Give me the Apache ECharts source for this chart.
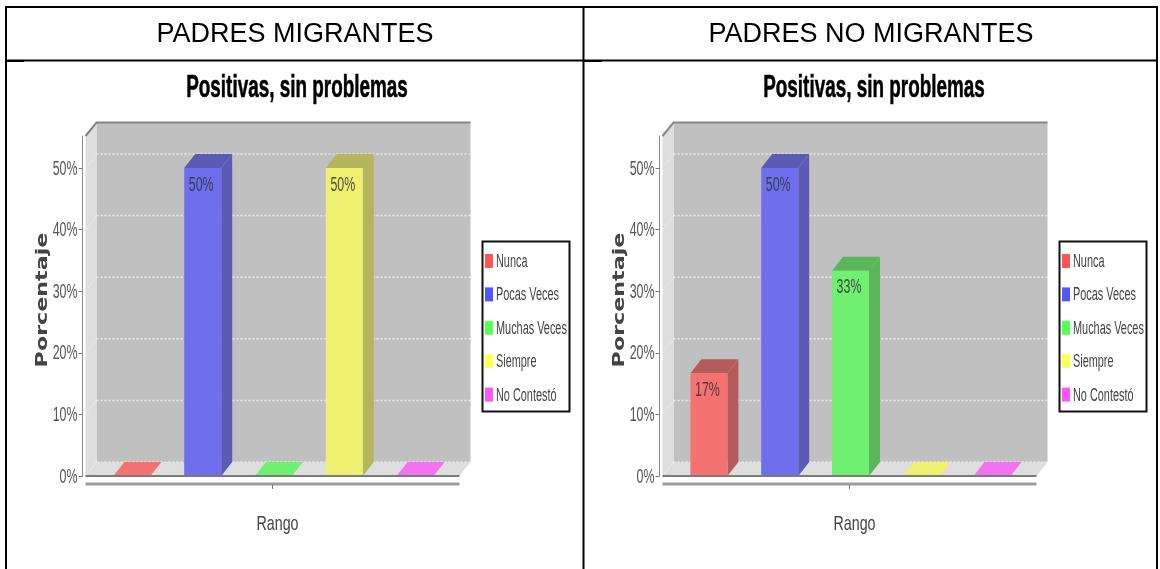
<!DOCTYPE html>
<html><head><meta charset="utf-8">
<style>html,body{margin:0;padding:0;background:#fff}#c{width:1160px;height:569px}</style>
<script src="https://cdn.jsdelivr.net/npm/echarts@6/dist/echarts.min.js"></script>
</head><body><div id="c"></div>
<script>
const categories = ['Nunca','Pocas Veces','Muchas Veces','Siempre','No Contestó'];
const padresMigrantes = [0,50,0,50,0];
const padresNoMigrantes = [16.67,50,33.33,0,0];
const yTicks = [0,10,20,30,40,50];
const headers = ['PADRES MIGRANTES','PADRES NO MIGRANTES'];
const chartTitle = 'Positivas, sin problemas';
const xName = 'Rango';
const yName = 'Porcentaje';

const legendColors = ['#ff5555','#5555ff','#55ff55','#ffff55','#ff55ff'];
const frontColors  = ['#f57272','#6f6fee','#70f070','#f0f070','#f272f2'];
const sideColors   = ['#b55b5b','#5b5bb5','#5bb55b','#b5b55b','#b55bb5'];
const DX = 11, DY = 14, FONT = '"Liberation Sans"';

function wallRender(params, api){
  const c = params.coordSys;
  const L = c.x - DX, R = c.x + c.width + 9, T = c.y, B = c.y + c.height;
  const kids = [
    {type:'rect',shape:{x:c.x,y:T-DY,width:R+DX-c.x,height:c.height},style:{fill:'#c0c0c0'}},
    {type:'polygon',shape:{points:[[L,T],[c.x,T-DY],[c.x,B-DY],[L,B]]},style:{fill:'#dedede'}},
    {type:'polygon',shape:{points:[[L,B],[c.x,B-DY],[R+DX,B-DY],[R,B]]},style:{fill:'#dedede'}},
    {type:'polyline',shape:{points:[[L,T],[c.x,T-DY+0.5],[R+DX,T-DY+0.5]]},style:{fill:null,stroke:'#858585',lineWidth:2}}
  ];
  yTicks.forEach(v=>{
    const y = api.coord([0,v])[1];
    kids.push({type:'line',shape:{x1:c.x,y1:y-DY,x2:R+DX,y2:y-DY},style:{stroke:'#e8e8e8',lineWidth:1.5,lineDash:[2,2]}});
    kids.push({type:'line',shape:{x1:L,y1:y,x2:c.x,y2:y-DY},style:{stroke:'#eeeeee',lineWidth:1,lineDash:[2,2]}});
    kids.push({type:'text',x:L-8,y:y+1,scaleX:0.62,
      style:{text:v+'%',font:'20px '+FONT,fill:'#555',align:'right',verticalAlign:'middle'}});
  });
  kids.push({type:'line',shape:{x1:L,y1:B,x2:R,y2:B},z2:50,style:{stroke:'#7a7a7a',lineWidth:2}});
  kids.push({type:'line',shape:{x1:L,y1:B+8,x2:R,y2:B+8},style:{stroke:'#9c9c9c',lineWidth:3}});
  const mid = c.x + c.width/2 - 1;
  kids.push({type:'line',shape:{x1:mid,y1:B+9,x2:mid,y2:B+13},style:{stroke:'#777',lineWidth:1}});
  kids.push({type:'text',x:mid+5,y:B+48,scaleX:0.68,
    style:{text:xName,font:'21px '+FONT,fill:'#444',align:'center',verticalAlign:'middle'}});
  kids.push({type:'text',x:L-42,y:(T+B)/2-6,rotation:Math.PI/2,scaleX:1.48,
    style:{text:yName,font:'bold 15px "DejaVu Sans"',fill:'#444',align:'center',verticalAlign:'middle'}});
  return {type:'group',children:kids};
}

function barRender(idx){
  return function(params, api){
    const v = api.value(1);
    const p = api.coord([api.value(0), v]);
    const base = api.coord([api.value(0), 0]);
    const w = api.size([1,0])[0]*0.523;
    const x0 = p[0]-w/2, x1 = p[0]+w/2, yT = p[1], yB = base[1];
    const kids = [];
    if (v > 0){
      kids.push({type:'polygon',shape:{points:[[x1,yT],[x1+DX,yT-DY],[x1+DX,yB-DY],[x1,yB]]},style:{fill:sideColors[idx]}});
      kids.push({type:'polygon',shape:{points:[[x0,yT],[x0+DX,yT-DY],[x1+DX,yT-DY],[x1,yT]]},style:{fill:sideColors[idx]}});
      kids.push({type:'rect',shape:{x:x0,y:yT,width:w,height:yB-yT},style:{fill:frontColors[idx]}});
      kids.push({type:'text',x:p[0]-1.5,y:yT+17,scaleX:0.62,
        style:{text:Math.round(v)+'%',font:'20px '+FONT,fill:'#333',opacity:.85,align:'center',verticalAlign:'middle'}});
    } else {
      kids.push({type:'polygon',shape:{points:[[x0,yB],[x0+DX,yB-DY],[x1+DX,yB-DY],[x1,yB]]},style:{fill:frontColors[idx]}});
    }
    return {type:'group',children:kids};
  };
}

const gridLefts = [96.5,673.5], datasets = [padresMigrantes,padresNoMigrantes], legendLefts = [482,1059];
const grid=[],xAxis=[],yAxis=[],series=[],graphic=[];
datasets.forEach((vals,g)=>{
  grid.push({left:gridLefts[g],top:136,width:354,height:340});
  xAxis.push({type:'category',gridIndex:g,data:categories,
    axisLine:{show:false},axisTick:{show:false},axisLabel:{show:false}});
  yAxis.push({type:'value',gridIndex:g,min:0,max:55.2,interval:10,offset:14,
    splitLine:{show:false},
    axisLine:{show:true,lineStyle:{color:'#8a8a8a',width:1}},
    axisTick:{show:true,length:4,customValues:yTicks,lineStyle:{color:'#777'}},
    axisLabel:{show:false}});
  series.push({type:'custom',name:'wall'+g,xAxisIndex:g,yAxisIndex:g,silent:true,
    data:[[0,0]],renderItem:wallRender,encode:{x:0,y:1}});
  categories.forEach((cat,i)=>{
    series.push({type:'custom',name:cat,xAxisIndex:g,yAxisIndex:g,
      itemStyle:{color:legendColors[i]},
      data:[[i,vals[i]]],encode:{x:0,y:1},renderItem:barRender(i)});
  });
  const lx = legendLefts[g];
  graphic.push({type:'rect',shape:{x:lx+0.5,y:241.5,width:87,height:170},style:{fill:'#fff',stroke:'#111',lineWidth:2}});
  categories.forEach((cat,i)=>{
    const cy = 261 + i*33.4;
    graphic.push({type:'rect',shape:{x:lx+3,y:cy-7,width:8,height:14},style:{fill:legendColors[i]}});
    graphic.push({type:'text',x:lx+14,y:cy+1,scaleX:0.605,
      style:{text:cat,font:'18px '+FONT,fill:'#444',align:'left',verticalAlign:'middle'}});
  });
  graphic.push({type:'text',x:[297,874][g],y:88,scaleX:0.6,
    style:{text:chartTitle,font:'bold 31.5px '+FONT,fill:'#000',stroke:'#000',lineWidth:0.6,align:'center',verticalAlign:'middle'}});
  graphic.push({type:'text',x:[295,871][g],y:35,
    style:{text:headers[g],font:'27px '+FONT,fill:'#000',align:'center',verticalAlign:'middle'}});
});
const line=(x1,y1,x2,y2,w)=>({type:'line',shape:{x1,y1,x2,y2},style:{stroke:'#000',lineWidth:w}});
graphic.push(line(5,7,1158,7,2),line(6,6,6,569,2),line(583.5,6,583.5,569,2),line(1157,6,1157,569,2),
  line(5,60.5,1158,60.5,2),line(6,61.5,24,61.5,1),line(584,61.5,602,61.5,1));
const chart = echarts.init(document.getElementById('c'));
chart.setOption({animation:false,backgroundColor:'#fff',grid,xAxis,yAxis,series,graphic});
</script></body></html>
